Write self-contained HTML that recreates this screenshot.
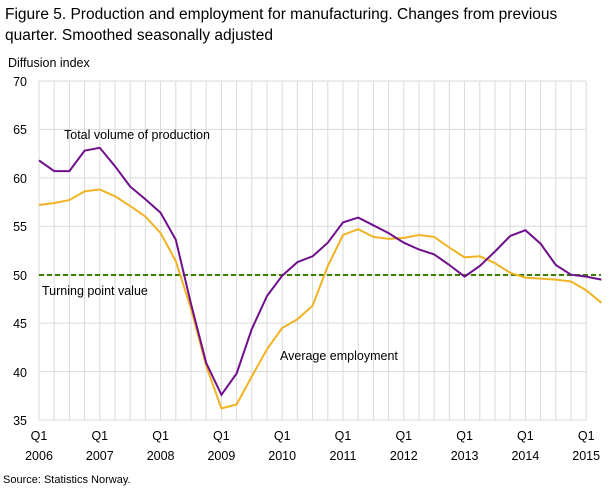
<!DOCTYPE html>
<html><head><meta charset="utf-8"><style>
body{margin:0;background:#fff;width:609px;height:488px;overflow:hidden;font-family:"Liberation Sans",sans-serif}
</style></head><body>
<svg width="609" height="488" xmlns="http://www.w3.org/2000/svg" font-family="Liberation Sans, sans-serif">
<text x="5" y="19" font-size="15.5" fill="#000">Figure 5. Production and employment for manufacturing. Changes from previous</text>
<text x="5" y="40" font-size="15.5" fill="#000">quarter. Smoothed seasonally adjusted</text>
<text x="8" y="67" font-size="12.5">Diffusion  index</text>
<g id="grid" stroke="#d9d9d9" stroke-width="1"></g>
<g font-size="12.5" text-anchor="end" fill="#000">
<text x="27" y="86">70</text><text x="27" y="134">65</text><text x="27" y="183">60</text><text x="27" y="231">55</text><text x="27" y="280">50</text><text x="27" y="328">45</text><text x="27" y="377">40</text><text x="27" y="425">35</text>
</g>
<g id="xl" font-size="12.5" text-anchor="middle"></g>
<line x1="39" y1="275" x2="601" y2="275" stroke="#3a7d00" stroke-width="2" stroke-dasharray="5,3"/>
<polyline id="emp" fill="none" stroke="#f0b323" stroke-width="2"/>
<polyline id="prod" fill="none" stroke="#6f0f8c" stroke-width="2"/>
<text x="64" y="139" font-size="12.5">Total volume of production</text>
<text x="42" y="295" font-size="12.5">Turning  point value</text>
<text x="280" y="360" font-size="12.5">Average employment</text>
<text x="3" y="483" font-size="11">Source: Statistics Norway.</text>
</svg>
<script>
var X=i=>39+i*15.2, Y=v=>420-(v-35)*9.686;
var g=document.getElementById('grid'),s='';
for(var v=35;v<=70;v+=5)s+='<line x1="39" x2="586" y1="'+Y(v)+'" y2="'+Y(v)+'"/>';
for(var i=0;i<=36;i++)s+='<line x1="'+X(i)+'" x2="'+X(i)+'" y1="81" y2="420"/>';
g.innerHTML=s;
var xl='';for(var k=0;k<=9;k++){var x=X(k*4);xl+='<text x="'+x+'" y="440">Q1</text><text x="'+x+'" y="460">'+(2006+k)+'</text>';}
document.getElementById('xl').innerHTML=xl;
var p=[61.8,60.7,60.7,62.8,63.1,61.2,59.1,57.8,56.4,53.6,47,40.9,37.6,39.8,44.4,47.8,49.9,51.3,51.9,53.3,55.4,55.9,55.1,54.3,53.3,52.6,52.1,51,49.8,50.9,52.4,54,54.6,53.2,51,50,49.8,49.5];
var e=[57.2,57.4,57.7,58.6,58.8,58.1,57.1,56,54.3,51.4,46.5,40.6,36.2,36.6,39.5,42.3,44.5,45.4,46.8,50.9,54.1,54.7,53.9,53.7,53.8,54.1,53.9,52.8,51.8,51.9,51.2,50.2,49.7,49.6,49.5,49.3,48.4,47.1];
function pts(a){return a.map((v,i)=>X(i).toFixed(1)+','+Y(v).toFixed(1)).join(' ');}
document.getElementById('prod').setAttribute('points',pts(p));
document.getElementById('emp').setAttribute('points',pts(e));
</script>
</body></html>
